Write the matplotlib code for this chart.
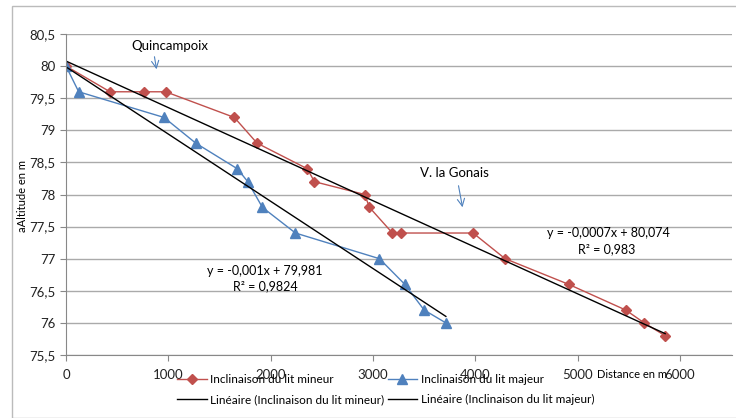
import matplotlib.pyplot as plt
import numpy as np
from matplotlib.patches import Rectangle, FancyArrowPatch

# Inclinaison du lit mineur (red)
mineur_x = [0, 430, 762, 974, 1645, 1867, 2359, 2427, 2919, 2965, 3190, 3275, 3978, 4291, 4913, 5470, 5650, 5855]
mineur_y = [80.0, 79.6, 79.6, 79.6, 79.2, 78.8, 78.4, 78.2, 78.0, 77.8, 77.4, 77.4, 77.4, 77.0, 76.6, 76.2, 76.0, 75.8]

# Inclinaison du lit majeur (blue)
majeur_x = [0, 124, 958, 1268, 1675, 1776, 1919, 2242, 3063, 3311, 3500, 3712]
majeur_y = [80.0, 79.6, 79.2, 78.8, 78.4, 78.2, 77.8, 77.4, 77.0, 76.6, 76.2, 76.0]

x_ticks = [0, 1000, 2000, 3000, 4000, 5000, 6000]
y_ticks = [75.5, 76, 76.5, 77, 77.5, 78, 78.5, 79, 79.5, 80, 80.5]

red = '#C0504D'
blue = '#4F81BD'

plt.rcParams['font.family'] = ['Lato', 'DejaVu Sans']

fig = plt.figure(figsize=(7.36, 4.18), dpi=100)
fig.patches.append(Rectangle((12/736, 0), 1, (418-6)/418, transform=fig.transFigure,
                             fill=False, edgecolor='#bbbbbb', lw=1))

ax = fig.add_axes([66/736, (418-355)/418, 666/736, 321/418])

l1, = ax.plot(mineur_x, mineur_y, color=red, lw=1, marker='D', markersize=5, label='Inclinaison du lit mineur')
l2, = ax.plot(majeur_x, majeur_y, color=blue, lw=1, marker='^', markersize=6.5, label='Inclinaison du lit majeur')

# linear trend lines
a1, b1 = np.polyfit(mineur_x, mineur_y, 1)
a2, b2 = np.polyfit(majeur_x, majeur_y, 1)
xs1 = np.array([0, max(mineur_x)])
xs2 = np.array([0, max(majeur_x)])
t1, = ax.plot(xs1, a1 * xs1 + b1, color='black', lw=1, label='Linéaire (Inclinaison du lit mineur)')
t2, = ax.plot(xs2, a2 * xs2 + b2, color='black', lw=1, label='Linéaire (Inclinaison du lit majeur)')

ax.set_xlim(0, 6000 * 666 / 614)
ax.set_ylim(75.5, 80.5)
ax.set_xticks(x_ticks)
ax.set_yticks(y_ticks)
ax.set_xticklabels([str(v) for v in x_ticks])
ax.set_yticklabels([f'{v:g}'.replace('.', ',') for v in y_ticks])
ax.tick_params(axis='both', labelsize=9.5, color='#888888', length=4, labelcolor='#222222')
ax.tick_params(axis='x', pad=6)
ax.grid(axis='y', color='#aaaaaa', lw=1)
ax.set_axisbelow(True)
for s in ['top', 'right']:
    ax.spines[s].set_visible(False)
for s in ['left', 'bottom']:
    ax.spines[s].set_color('#888888')

fig.text(22/736, 1 - 196/418, 'aAltitude en m', rotation=90, ha='center', va='center', fontsize=8)
fig.text(597/736, 1 - 375/418, 'Distance en m', ha='left', va='center', fontsize=8)

fig.text(170/736, 1 - 46/418, 'Quincampoix', ha='center', va='center', fontsize=9.5)
fig.text(454/736, 1 - 173/418, 'V. la Gonais', ha='center', va='center', fontsize=9.5)
fig.patches.append(FancyArrowPatch((154/736, 1 - 54/418), (157/736, 1 - 72/418),
                   transform=fig.transFigure, arrowstyle='->', mutation_scale=13, color=blue, lw=0.8))
fig.patches.append(FancyArrowPatch((458/736, 1 - 183/418), (463/736, 1 - 210/418),
                   transform=fig.transFigure, arrowstyle='->', mutation_scale=13, color=blue, lw=0.8))

fig.text(265/736, 1 - 271/418, 'y = -0,001x + 79,981', ha='center', va='center', fontsize=9)
fig.text(265/736, 1 - 286/418, 'R² = 0,9824', ha='center', va='center', fontsize=9)
fig.text(608/736, 1 - 233/418, 'y = -0,0007x + 80,074', ha='center', va='center', fontsize=9)
fig.text(607/736, 1 - 249/418, 'R² = 0,983', ha='center', va='center', fontsize=9)

fig.legend(handles=[l1, t1, l2, t2], ncol=2, loc='upper left', bbox_to_anchor=(177/736, 1 - 374/418),
           frameon=False, fontsize=8.5, handlelength=2.5, handletextpad=0.3, columnspacing=0.3,
           labelspacing=0.8, borderpad=0, borderaxespad=0)

fig.savefig('out.png', dpi=100)
